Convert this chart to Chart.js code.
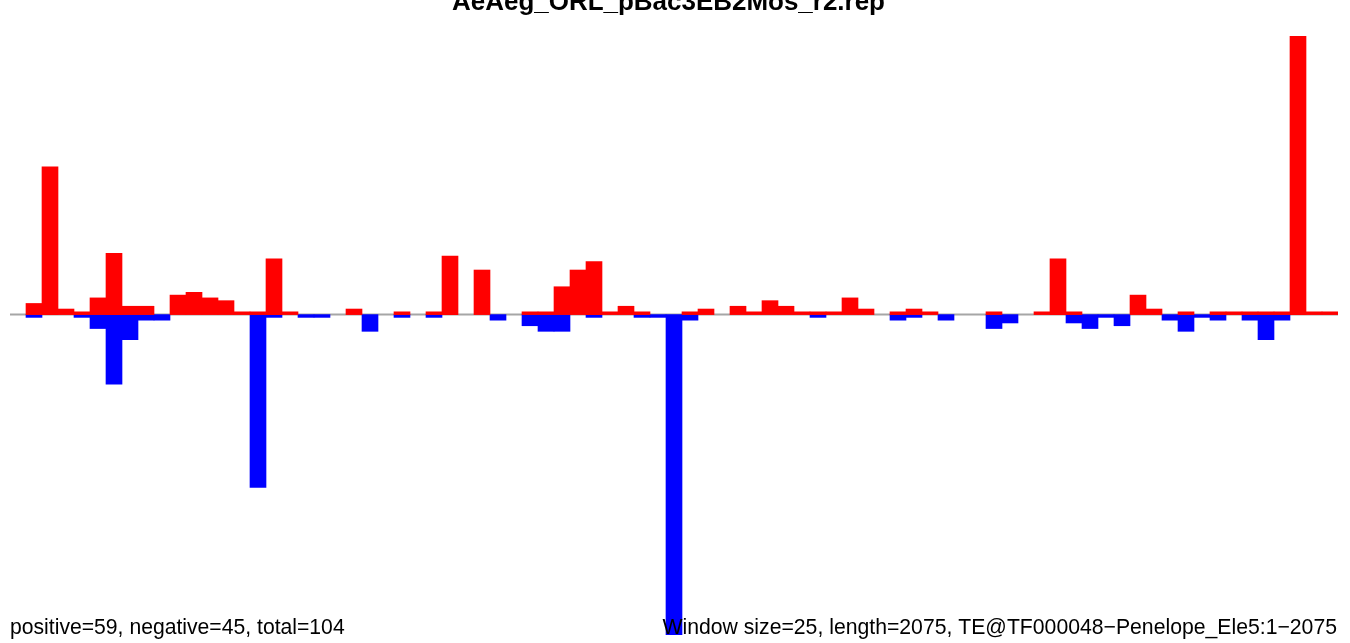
<!DOCTYPE html>
<html>
<head>
<meta charset="utf-8">
<script src="https://cdn.jsdelivr.net/npm/chart.js@4/dist/chart.umd.min.js"></script>
<style>
html,body{margin:0;padding:0;background:#fff;overflow:hidden;}
canvas{display:block;}
</style>
</head>
<body>
<canvas id="c" width="1350" height="643"></canvas>
<script>
const titleText = "AeAeg_ORL_pBac3EB2Mos_r2.rep";
const leftNote = "positive=59, negative=45, total=104";
const rightNote = "Window size=25, length=2075, TE@TF000048\u2212Penelope_Ele5:1\u22122075";

const categories = [1,26,51,76,101,126,151,176,201,226,251,276,301,326,351,376,401,426,451,476,501,526,551,576,601,626,651,676,701,726,751,776,801,826,851,876,901,926,951,976,1001,1026,1051,1076,1101,1126,1151,1176,1201,1226,1251,1276,1301,1326,1351,1376,1401,1426,1451,1476,1501,1526,1551,1576,1601,1626,1651,1676,1701,1726,1751,1776,1801,1826,1851,1876,1901,1926,1951,1976,2001,2026,2051];

const positiveCounts = [
  0,4,53,2,1,6,22,3,3,0,
  7,8,6,5,1,1,20,1,0,0,
  0,2,0,0,1,0,1,21,0,16,
  0,0,1,1,10,16,19,1,3,1,
  0,0,1,2,0,3,1,5,3,1,
  1,1,6,2,0,1,2,1,0,0,
  0,1,0,0,1,20,1,0,0,0,
  7,2,0,1,0,1,1,1,1,1,
  100,1,1
];

const negativeCounts = [
  0,-1,0,0,-1,-5,-25,-9,-2,-2,
  0,0,0,0,0,-62,-1,0,-1,-1,
  0,0,-6,0,-1,0,-1,0,0,0,
  -2,0,-4,-6,-6,0,-1,0,0,-1,
  -1,-115,-2,0,0,0,0,0,0,0,
  -1,0,0,0,0,-2,-1,0,-2,0,
  0,-5,-3,0,0,0,-3,-5,-1,-4,
  0,0,-2,-6,-1,-2,0,-2,-9,-2,
  0,0,0
];

function fitFont(ctx, text, weight, family, targetWidth) {
  ctx.font = weight + " 100px " + family;
  const w = ctx.measureText(text).width;
  return 100 * targetWidth / w;
}

const decor = {
  id: 'decor',
  beforeDatasetsDraw(chart) {
    const ctx = chart.ctx;
    const a = chart.chartArea;
    const y0 = chart.scales.y.getPixelForValue(0);
    ctx.save();
    ctx.strokeStyle = '#a6a6a6';
    ctx.lineWidth = 2;
    ctx.beginPath();
    ctx.moveTo(a.left, y0);
    ctx.lineTo(a.right, y0);
    ctx.stroke();
    ctx.restore();
  },
  afterDraw(chart) {
    const ctx = chart.ctx;
    const fam = '"Liberation Sans", Arial, Helvetica, sans-serif';
    ctx.save();
    ctx.fillStyle = '#000';
    ctx.textBaseline = 'alphabetic';
    let s = fitFont(ctx, titleText, 'bold', fam, 433);
    ctx.font = 'bold ' + s + 'px ' + fam;
    ctx.textAlign = 'center';
    ctx.fillText(titleText, 668.5, 10);
    s = fitFont(ctx, leftNote, 'normal', fam, 335);
    ctx.font = 'normal ' + s + 'px ' + fam;
    ctx.textAlign = 'left';
    ctx.fillText(leftNote, 10, 634);
    s = fitFont(ctx, rightNote, 'normal', fam, 675);
    ctx.font = 'normal ' + s + 'px ' + fam;
    ctx.textAlign = 'right';
    ctx.fillText(rightNote, 1337, 634);
    ctx.restore();
  }
};

const toBars = arr => arr.map(v => (v === 0 ? null : v));

new Chart(document.getElementById('c'), {
  type: 'bar',
  data: {
    labels: categories,
    datasets: [
      { label: 'positive', data: toBars(positiveCounts), backgroundColor: '#ff0000', borderWidth: 0,
        grouped: false, barPercentage: 1.0, categoryPercentage: 1.0 },
      { label: 'negative', data: toBars(negativeCounts), backgroundColor: '#0000ff', borderWidth: 0,
        grouped: false, barPercentage: 1.0, categoryPercentage: 1.0 }
    ]
  },
  options: {
    responsive: false,
    animation: false,
    events: [],
    layout: { padding: { left: 10, right: 12, top: 36, bottom: 8 } },
    plugins: { legend: { display: false }, tooltip: { enabled: false }, title: { display: false } },
    scales: {
      x: { type: 'category', display: false, offset: true, grid: { display: false } },
      y: { display: false, min: -115, max: 100, grid: { display: false } }
    }
  },
  plugins: [decor]
});
</script>
</body>
</html>
